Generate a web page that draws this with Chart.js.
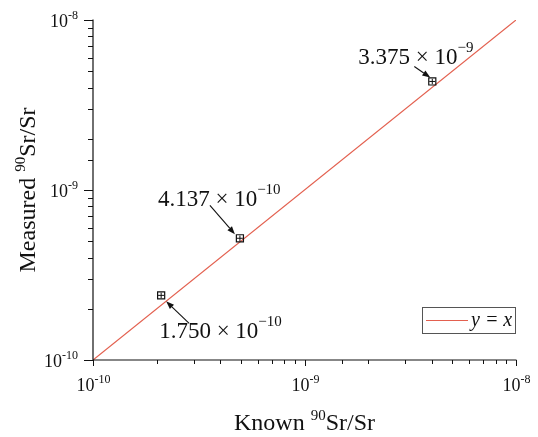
<!DOCTYPE html>
<html>
<head>
<meta charset="utf-8">
<script src="https://cdn.jsdelivr.net/npm/chart.js@4/dist/chart.umd.min.js"></script>
<style>
    html, body { margin: 0; padding: 0; background: #fff; }
    #wrap { width: 538px; height: 437px; }
</style>
</head>
<body>
<div id="wrap"><canvas id="chart" width="538" height="437"></canvas></div>
<script>
// values
const knownRatio = [2.1e-10, 4.95e-10, 4.02e-9];
const measuredRatio = [2.4e-10, 5.2e-10, 4.35e-9];
const knownErr = [0.07e-10, 0.16e-10, 0.13e-9];
const measuredErr = [0.09e-10, 0.2e-10, 0.16e-9];
const labelMantissa = ['1.750', '4.137', '3.375'];
const labelExponent = ['\u221210', '\u221210', '\u22129'];
const lineX = [1e-10, 1e-8];
const axisMin = 1e-10;
const axisMax = 1e-8;
const xTitle = ['Known ', '90', 'Sr/Sr'];
const yTitle = ['Measured ', '90', 'Sr/Sr'];

// where each annotation sits relative to its point (text, arrow tail, arrow head)
const labelOffsets = [
    { tx: -2, ty: 43, ax: 28, ay: 28, hx: 5, hy: 6 },
    { tx: -82, ty: -32, ax: -30, ay: -33, hx: -5, hy: -4 },
    { tx: -74, ty: -17, ax: -18, ay: -15, hx: -2, hy: -4 }
];

const serif = '"Liberation Serif", "Times New Roman", serif';
const lineRed = '#e3604f';
const ink = '#111';

function isMajor(v) {
    const e = Math.log10(v);
    return Math.abs(e - Math.round(e)) < 1e-6;
}

// draws base text followed by a raised smaller part, returns total width
function supWidth(ctx, base, sup, bigSize, smallSize) {
    ctx.font = bigSize + 'px ' + serif;
    const w1 = ctx.measureText(base).width;
    ctx.font = smallSize + 'px ' + serif;
    return w1 + ctx.measureText(sup).width;
}
function drawSup(ctx, x, y, base, sup, bigSize, smallSize, rise) {
    ctx.font = bigSize + 'px ' + serif;
    ctx.fillText(base, x, y);
    const w1 = ctx.measureText(base).width;
    ctx.font = smallSize + 'px ' + serif;
    ctx.fillText(sup, x + w1, y - rise);
    return w1 + ctx.measureText(sup).width;
}

// axis lines, tick marks, tick labels and axis titles
const axesDraw = {
    id: 'axesDraw',
    afterDraw(chart) {
        const ctx = chart.ctx;
        const xs = chart.scales.x;
        const ys = chart.scales.y;
        const ca = chart.chartArea;
        ctx.save();
        ctx.strokeStyle = ink;
        ctx.fillStyle = ink;
        ctx.lineWidth = 1.2;
        ctx.beginPath();
        ctx.moveTo(ca.left, ca.top - 0.5);
        ctx.lineTo(ca.left, ca.bottom);
        ctx.lineTo(ca.right + 0.5, ca.bottom);
        ctx.stroke();
        ctx.lineWidth = 1;
        ctx.textBaseline = 'alphabetic';
        ctx.textAlign = 'left';
        xs.ticks.forEach(t => {
            const px = Math.round(xs.getPixelForValue(t.value)) + 0.5;
            const major = isMajor(t.value);
            ctx.beginPath();
            ctx.moveTo(px, ca.bottom);
            ctx.lineTo(px, ca.bottom + (major ? 6 : 4));
            ctx.stroke();
            if (major) {
                const ex = String(Math.round(Math.log10(t.value)));
                const w = supWidth(ctx, '10', ex, 18, 12);
                drawSup(ctx, px - w / 2, ca.bottom + 31, '10', ex, 18, 12, 8);
            }
        });
        ys.ticks.forEach(t => {
            const py = Math.round(ys.getPixelForValue(t.value)) + 0.5;
            const major = isMajor(t.value);
            ctx.beginPath();
            ctx.moveTo(ca.left, py);
            ctx.lineTo(ca.left - (major ? 9 : 5), py);
            ctx.stroke();
            if (major) {
                const ex = String(Math.round(Math.log10(t.value)));
                const w = supWidth(ctx, '10', ex, 18, 12);
                drawSup(ctx, ca.left - 15 - w, py + 6, '10', ex, 18, 12, 8);
            }
        });

        // x title
        let w = supWidth(ctx, xTitle[0], xTitle[1], 24, 15) + supWidth(ctx, xTitle[2], '', 24, 15);
        let x0 = (ca.left + ca.right) / 2 - w / 2;
        x0 += drawSup(ctx, x0, 430, xTitle[0], xTitle[1], 24, 15, 10);
        drawSup(ctx, x0, 430, xTitle[2], '', 24, 15, 0);

        // y title, rotated
        ctx.translate(35, (ca.top + ca.bottom) / 2);
        ctx.rotate(-Math.PI / 2);
        w = supWidth(ctx, yTitle[0], yTitle[1], 24, 15) + supWidth(ctx, yTitle[2], '', 24, 15);
        x0 = -w / 2;
        x0 += drawSup(ctx, x0, 0, yTitle[0], yTitle[1], 24, 15, 10);
        drawSup(ctx, x0, 0, yTitle[2], '', 24, 15, 0);
        ctx.restore();
    }
};

// error bars, annotations with arrows, legend box
const extras = {
    id: 'extras',
    afterDatasetsDraw(chart) {
        const ctx = chart.ctx;
        const xs = chart.scales.x;
        const ys = chart.scales.y;
        const ca = chart.chartArea;
        ctx.save();
        ctx.strokeStyle = ink;
        ctx.fillStyle = ink;
        ctx.lineWidth = 1;
        knownRatio.forEach((kx, i) => {
            const px = xs.getPixelForValue(kx);
            const py = ys.getPixelForValue(measuredRatio[i]);
            const x0 = xs.getPixelForValue(kx - knownErr[i]);
            const x1 = xs.getPixelForValue(kx + knownErr[i]);
            const y0 = ys.getPixelForValue(measuredRatio[i] - measuredErr[i]);
            const y1 = ys.getPixelForValue(measuredRatio[i] + measuredErr[i]);
            ctx.lineWidth = 1;
            ctx.beginPath();
            ctx.moveTo(x0, py); ctx.lineTo(x1, py);
            ctx.moveTo(px, y0); ctx.lineTo(px, y1);
            ctx.stroke();

            const o = labelOffsets[i];
            // arrow
            const ax = px + o.ax, ay = py + o.ay;
            const hx = px + o.hx, hy = py + o.hy;
            const ang = Math.atan2(hy - ay, hx - ax);
            const hl = 8, hw = 3;
            const bx = hx - hl * Math.cos(ang), by = hy - hl * Math.sin(ang);
            ctx.lineWidth = 1.1;
            ctx.beginPath();
            ctx.moveTo(ax, ay); ctx.lineTo(bx, by);
            ctx.stroke();
            ctx.beginPath();
            ctx.moveTo(hx, hy);
            ctx.lineTo(bx + hw * Math.sin(ang), by - hw * Math.cos(ang));
            ctx.lineTo(bx - hw * Math.sin(ang), by + hw * Math.cos(ang));
            ctx.closePath();
            ctx.fill();

            // label text with superscript exponent
            ctx.textBaseline = 'alphabetic';
            ctx.textAlign = 'left';
            drawSup(ctx, px + o.tx, py + o.ty, labelMantissa[i] + ' \u00D7 10', labelExponent[i], 23, 15, 12);
        });

        // legend box
        const lx = ca.right - 94, ly = ca.bottom - 53, lw = 93, lh = 26;
        ctx.strokeStyle = '#555';
        ctx.lineWidth = 1;
        ctx.strokeRect(lx + 0.5, ly + 0.5, lw, lh);
        ctx.strokeStyle = lineRed;
        ctx.lineWidth = 1.2;
        ctx.beginPath();
        ctx.moveTo(lx + 4, ly + 13.5);
        ctx.lineTo(lx + 46, ly + 13.5);
        ctx.stroke();
        ctx.fillStyle = ink;
        ctx.font = 'italic 20px ' + serif;
        ctx.textBaseline = 'middle';
        ctx.fillText(chart.data.datasets[1].label, lx + 49, ly + 14);
        ctx.restore();
    }
};

const ctx = document.getElementById('chart').getContext('2d');
new Chart(ctx, {
    type: 'scatter',
    data: {
        datasets: [
            {
                label: 'measured',
                data: knownRatio.map((x, i) => ({ x: x, y: measuredRatio[i] })),
                pointStyle: 'rect',
                pointRadius: 5,
                pointBorderWidth: 1.2,
                pointBorderColor: ink,
                pointBackgroundColor: 'rgba(255,255,255,0)',
                showLine: false
            },
            {
                label: 'y = x',
                data: lineX.map(v => ({ x: v, y: v })),
                showLine: true,
                borderColor: lineRed,
                borderWidth: 1.2,
                pointRadius: 0
            }
        ]
    },
    options: {
        responsive: false,
        animation: false,
        layout: { padding: { left: 0, right: 22, top: 20, bottom: 0 } },
        plugins: {
            legend: { display: false },
            tooltip: { enabled: false }
        },
        scales: {
            x: {
                type: 'logarithmic',
                min: axisMin,
                max: axisMax,
                grid: { display: false },
                border: { display: false },
                afterFit: (scale) => { scale.height = 77; },
                ticks: { autoSkip: false, maxRotation: 0, font: { size: 1 }, callback: () => '' }
            },
            y: {
                type: 'logarithmic',
                min: axisMin,
                max: axisMax,
                grid: { display: false },
                border: { display: false },
                afterFit: (scale) => { scale.width = 93; },
                ticks: { autoSkip: false, font: { size: 1 }, callback: () => '' }
            }
        }
    },
    plugins: [axesDraw, extras]
});
</script>
</body>
</html>
